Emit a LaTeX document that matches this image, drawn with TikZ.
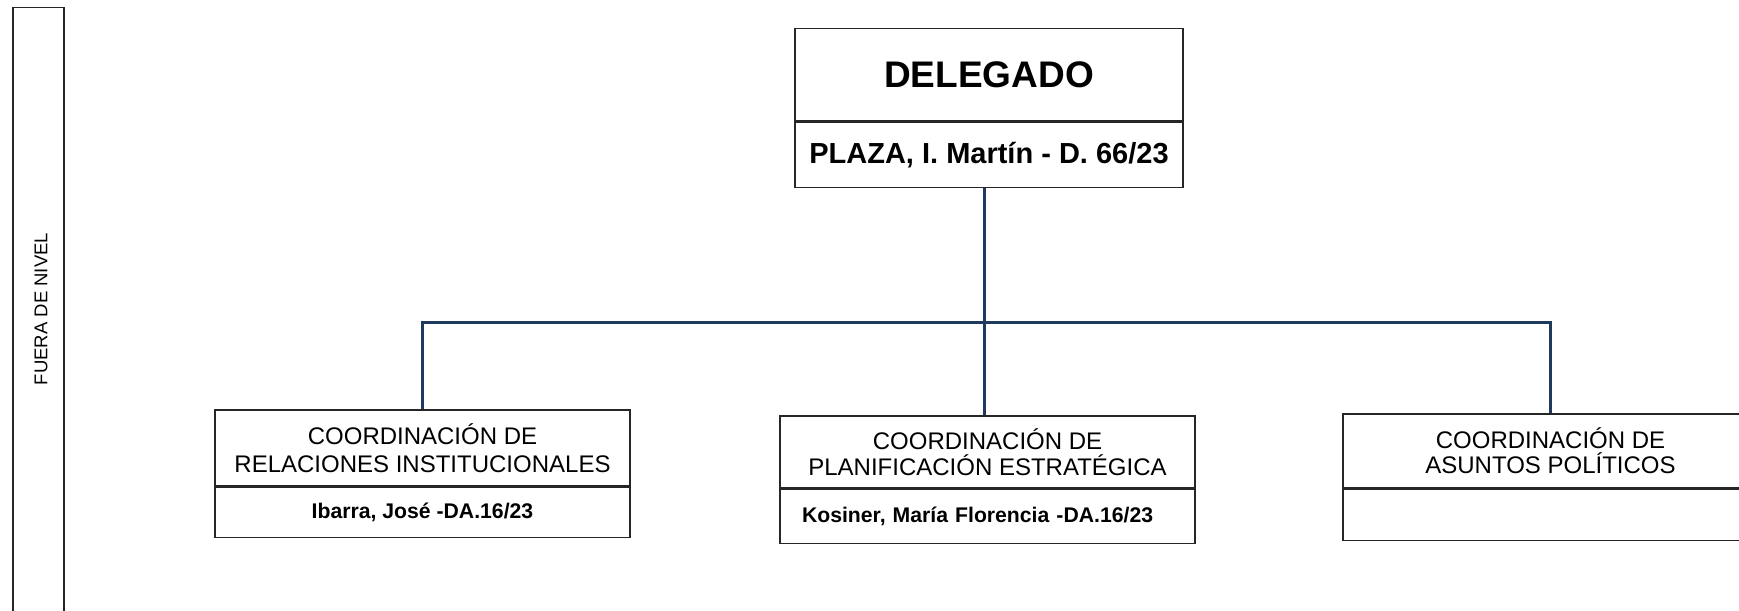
\documentclass[tikz,border=0pt]{standalone}
\usepackage{fontspec}
\setmainfont{Liberation Sans}
\definecolor{linkblue}{HTML}{1F3A5F}
\newcommand*\boxwidth{207.5pt}
\tikzset{
    part/.style={
        draw=black!85,
        line width=0.75pt,
        rectangle,
        anchor=north,
        inner sep=0pt,
        minimum width=\boxwidth,
        align=center
    },
    titlebox/.style={part, font=\fontsize{12}{#1}\selectfont},
    namebox/.style={part, font=\bfseries\fontsize{10.6}{12}\selectfont},
    link/.style={draw=linkblue, line width=1.5pt}
}

\begin{document}
\begin{tikzpicture}[x=0.5pt,y=-0.5pt]

    \useasboundingbox (0,0) rectangle (1739,610);
    \clip (0,0) rectangle (1739,610);

    % The side strip.
    \node[draw=black!85, line width=0.75pt, minimum width=25.5pt, minimum height=310pt, anchor=north] (fuera) at (38.5,7) {};
    \node[rotate=90, font=\fontsize{9.25}{11}\selectfont] (fuera-label) at (41,309) {FUERA DE NIVEL};

    % The head box.
    \node[part, minimum width=194pt, minimum height=46pt, font=\bfseries\fontsize{18.5}{22}\selectfont] (delegado) at (989,28) {DELEGADO};
    \node[part, minimum width=194pt, minimum height=32.5pt, font=\bfseries\fontsize{14.5}{17}\selectfont] (delegado-name) at (delegado.south) {PLAZA, I. Mart\'in - D. 66/23};

    % The three coordinations. The y coordinate is the top of each box.
    \node[titlebox=14, minimum height=38pt] (rel) at (422.5,409) {COORDINACI\'ON DE\\RELACIONES INSTITUCIONALES};
    \node[namebox, minimum height=25pt] (rel-name) at (rel.south) {Ibarra, Jos\'e -DA.16/23};

    \node[titlebox=13, minimum height=36pt] (plan) at (987.5,415) {COORDINACI\'ON DE\\PLANIFICACI\'ON ESTRAT\'EGICA};
    \node[namebox, minimum height=27pt, inner xsep=11pt, text width=185.5pt, align=left] (plan-name) at (plan.south) {Kosiner, Mar\'ia Florencia -DA.16/23};

    \node[titlebox=12.5, minimum height=37pt] (pol) at (1550.5,413) {COORDINACI\'ON DE\\ASUNTOS POL\'ITICOS};
    \node[namebox, minimum height=25.5pt] (pol-name) at (pol.south) {};

    % Connectors.
    \coordinate (bar) at (0,322);
    \coordinate (stem) at ([xshift=-2.5pt]delegado-name.south);
    \draw[link] (stem) -- (stem |- plan.north);
    \draw[link] (rel.north) -- (rel.north |- bar) -- (pol.north |- bar) -- (pol.north);

\end{tikzpicture}
\end{document}
